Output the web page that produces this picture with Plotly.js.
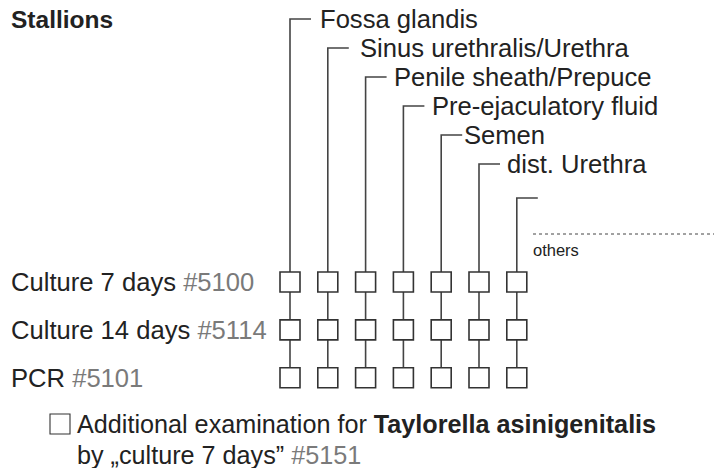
<!DOCTYPE html>
<html>
<head>
<meta charset="utf-8">
<script src="https://cdn.plot.ly/plotly-3.0.1.min.js"></script>
<style>html,body{margin:0;padding:0;background:#fff}#chart{width:714px;height:468px}</style>
</head>
<body>
<div id="chart"></div>
<script>
// ---- data ----
const title = "Stallions";
const sites = ["Fossa glandis", "Sinus urethralis/Urethra", "Penile sheath/Prepuce",
               "Pre-ejaculatory fluid", "Semen", "dist. Urethra", ""];
const tests = ["Culture 7 days", "Culture 14 days", "PCR"];
const testCodes = ["#5100", "#5114", "#5101"];
const othersLabel = "others";
const extraText = "Additional examination for ";
const extraBold = "Taylorella asinigenitalis";
const extraLine2 = "by „culture 7 days” ";
const extraCode = "#5151";

// ---- layout constants ----
const W = 714, H = 468;
const colX0 = 290, colStep = 37.8;
const rowY0 = 282, rowStep = 47.9;
const levelY = [19, 48, 77, 106, 135, 164, 198];
const tickLen = 21;
const textGap = [8, 10, 6, 7, 1, 6, 7];
const ink = "#222", lineCol = "#444", grey = "#7a7a7a";
const FONT = "Liberation Sans, Arial, sans-serif";
const FS = 25.6;

const traces = [];
const annotations = [];

const colX = i => colX0 + i * colStep;
const rowY = j => rowY0 + j * rowStep;

// leader lines
sites.forEach((s, i) => {
  traces.push({
    x: [colX(i) + tickLen, colX(i), colX(i)],
    y: [levelY[i], levelY[i], rowY(tests.length - 1)],
    mode: "lines", type: "scatter", hoverinfo: "skip",
    line: {color: lineCol, width: 1.6}
  });
  if (s) {
    annotations.push({
      x: colX(i) + tickLen + textGap[i], y: levelY[i], xref: "x", yref: "y",
      text: s, showarrow: false, xanchor: "left", yanchor: "middle",
      font: {family: FONT, size: FS, color: ink}, borderpad: 0
    });
  }
});

// boxes
tests.forEach((t, j) => {
  traces.push({
    x: sites.map((_, i) => colX(i)),
    y: sites.map(() => rowY(j)),
    mode: "markers", type: "scatter", hoverinfo: "skip",
    marker: {symbol: "square", size: 20, color: "#fff", line: {color: "#333", width: 1.6}}
  });
  annotations.push({
    x: 10, y: rowY(j), xref: "x", yref: "y",
    text: t + ' <span style="color:' + grey + '">' + testCodes[j] + '</span>',
    showarrow: false, xanchor: "left", yanchor: "middle",
    font: {family: FONT, size: FS, color: ink}, borderpad: 0
  });
});

// others dotted line
traces.push({
  x: [533, 714], y: [234, 234], mode: "lines", type: "scatter", hoverinfo: "skip",
  line: {color: "#444", width: 1, dash: "dot"}
});
annotations.push({
  x: 532, y: 250, xref: "x", yref: "y", text: othersLabel, showarrow: false,
  xanchor: "left", yanchor: "middle", font: {family: FONT, size: 16.5, color: ink}, borderpad: 0
});

// extra checkbox
traces.push({
  x: [60], y: [424], mode: "markers", type: "scatter", hoverinfo: "skip",
  marker: {symbol: "square", size: 20, color: "#fff", line: {color: "#333", width: 1.1}}
});
annotations.push({
  x: 76, y: 424, xref: "x", yref: "y",
  text: extraText + "<b>" + extraBold + "</b>", showarrow: false,
  xanchor: "left", yanchor: "middle", font: {family: FONT, size: FS - 0.4, color: ink}, borderpad: 0
});
annotations.push({
  x: 76, y: 455, xref: "x", yref: "y",
  text: extraLine2 + '<span style="color:' + grey + '">' + extraCode + '</span>', showarrow: false,
  xanchor: "left", yanchor: "middle", font: {family: FONT, size: FS - 0.4, color: ink}, borderpad: 0
});

// title
annotations.push({
  x: 10, y: 19, xref: "x", yref: "y", text: "<b>" + title + "</b>", showarrow: false,
  xanchor: "left", yanchor: "middle", font: {family: FONT, size: 24.5, color: ink}, borderpad: 0
});

const layout = {
  width: W, height: H,
  margin: {l: 0, r: 0, t: 0, b: 0},
  paper_bgcolor: "#fff", plot_bgcolor: "#fff",
  showlegend: false,
  xaxis: {range: [0, W], visible: false, fixedrange: true},
  yaxis: {range: [H, 0], visible: false, fixedrange: true},
  annotations: annotations
};

Plotly.newPlot("chart", traces, layout, {displayModeBar: false, staticPlot: true});
</script>
</body>
</html>
